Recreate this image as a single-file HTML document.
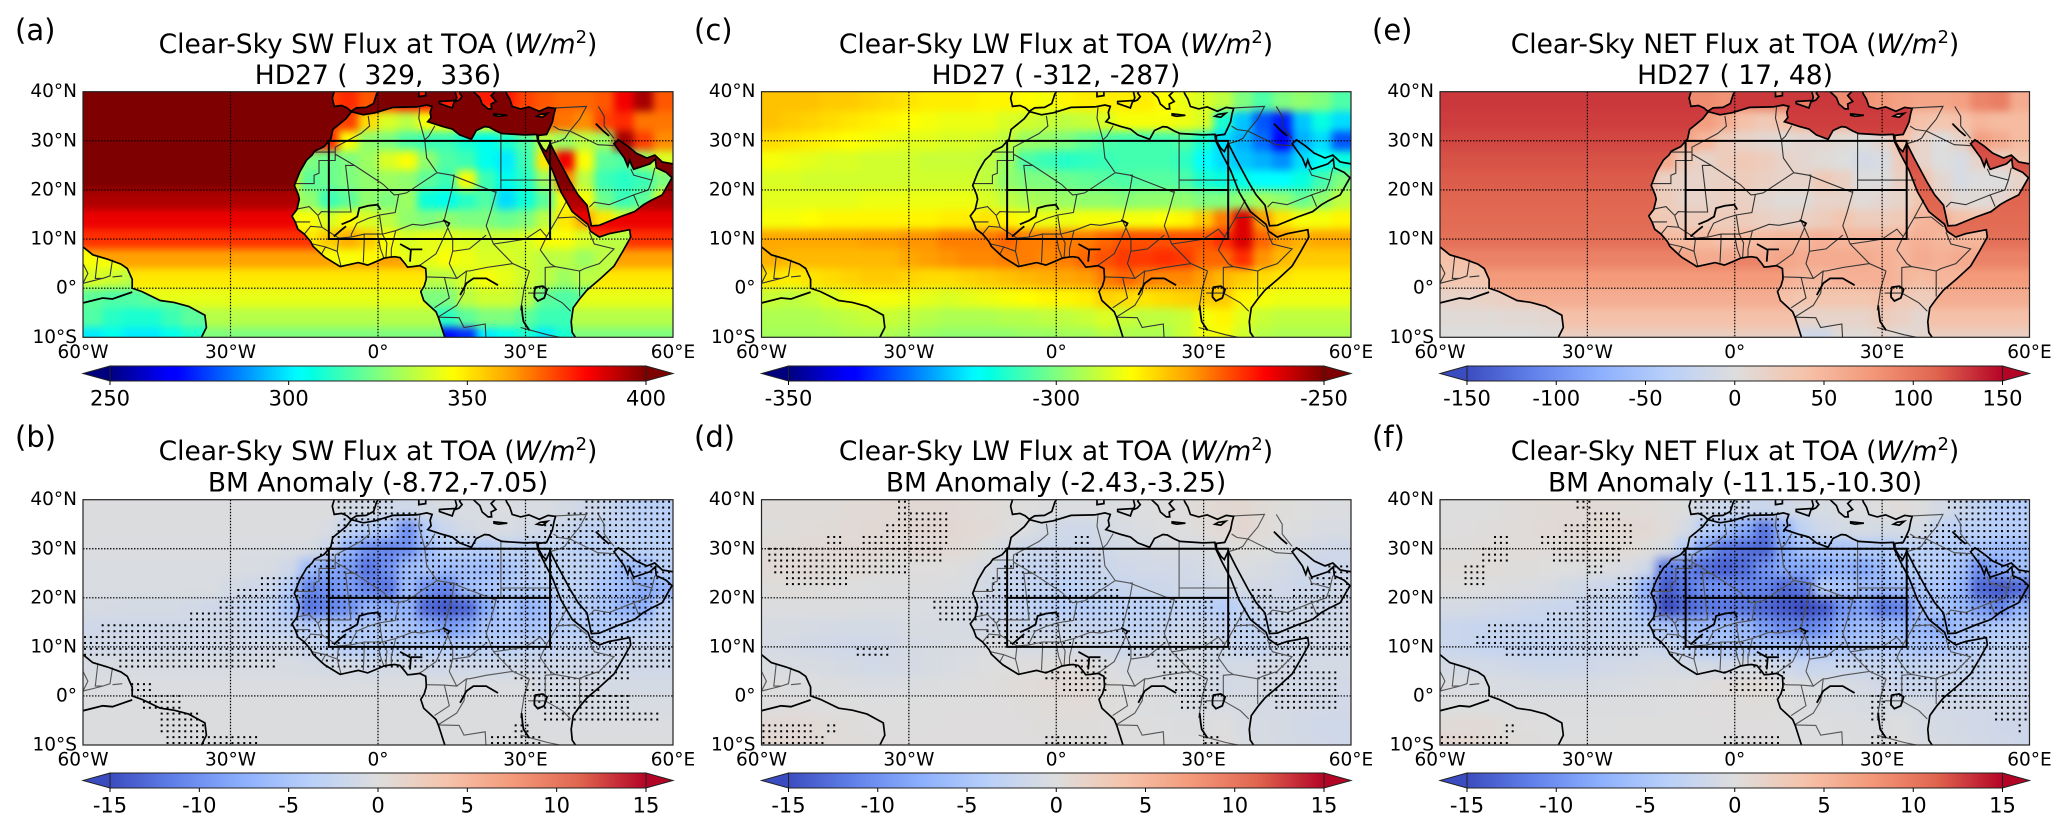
<!DOCTYPE html>
<html lang="en">
<head>
<meta charset="utf-8">
<title>Clear-Sky TOA Flux Maps</title>
<style>
html,body{margin:0;padding:0;background:#fff;}
svg{display:block;}
text{font-family:"DejaVu Sans","Liberation Sans",sans-serif;fill:#000;white-space:pre;}
.letter{font-size:29px;}
.title{font-size:26.5px;text-anchor:middle;}
</style>
</head>
<body>
<svg id="figure" xmlns="http://www.w3.org/2000/svg" width="2067" height="831" viewBox="0 0 2067 831">
  <defs>
    <filter id="blur-top" x="-10%" y="-10%" width="120%" height="120%" color-interpolation-filters="sRGB"><feGaussianBlur stdDeviation="4"/></filter>
    <filter id="blur-anom" x="-10%" y="-10%" width="120%" height="120%" color-interpolation-filters="sRGB"><feGaussianBlur stdDeviation="5"/></filter>
  </defs>
  <rect x="0" y="0" width="2067" height="831" fill="#fff"/>

  <g>
    <text class="letter" x="15" y="40">(a)</text>
    <text class="title" x="378" y="53">Clear-Sky SW Flux at TOA (<tspan font-style="italic">W/m</tspan><tspan dy="-10" font-size="18">2</tspan><tspan dy="10">)</tspan></text>
    <text class="title" x="378" y="84">HD27 (  329,  336)</text>
  </g>
  <g>
    <text class="letter" x="15" y="447">(b)</text>
    <text class="title" x="378" y="460">Clear-Sky SW Flux at TOA (<tspan font-style="italic">W/m</tspan><tspan dy="-10" font-size="18">2</tspan><tspan dy="10">)</tspan></text>
    <text class="title" x="378" y="491.5">BM Anomaly (-8.72,-7.05)</text>
  </g>
  <g>
    <text class="letter" x="694" y="40">(c)</text>
    <text class="title" x="1056" y="53">Clear-Sky LW Flux at TOA (<tspan font-style="italic">W/m</tspan><tspan dy="-10" font-size="18">2</tspan><tspan dy="10">)</tspan></text>
    <text class="title" x="1056" y="84">HD27 ( -312, -287)</text>
  </g>
  <g>
    <text class="letter" x="694" y="447">(d)</text>
    <text class="title" x="1056" y="460">Clear-Sky LW Flux at TOA (<tspan font-style="italic">W/m</tspan><tspan dy="-10" font-size="18">2</tspan><tspan dy="10">)</tspan></text>
    <text class="title" x="1056" y="491.5">BM Anomaly (-2.43,-3.25)</text>
  </g>
  <g>
    <text class="letter" x="1372" y="40">(e)</text>
    <text class="title" x="1735" y="53">Clear-Sky NET Flux at TOA (<tspan font-style="italic">W/m</tspan><tspan dy="-10" font-size="18">2</tspan><tspan dy="10">)</tspan></text>
    <text class="title" x="1735" y="84">HD27 ( 17, 48)</text>
  </g>
  <g>
    <text class="letter" x="1372" y="447">(f)</text>
    <text class="title" x="1735" y="460">Clear-Sky NET Flux at TOA (<tspan font-style="italic">W/m</tspan><tspan dy="-10" font-size="18">2</tspan><tspan dy="10">)</tspan></text>
    <text class="title" x="1735" y="491.5">BM Anomaly (-11.15,-10.30)</text>
  </g>
</svg>
<script>
// ---------- axes data ----------
const cellLons = [-58,-54,-50,-46,-42,-38,-34,-30,-26,-22,-18,-14,-10,-6,-2,2,6,10,14,18,22,26,30,34,38,42,46,50,54,58];
const cellLats = [38,34,30,26,22,18,14,10,6,2,-2,-6,-10];
const lonTicks = [-60,-30,0,30,60];
const lonTickLabels = ['60°W','30°W','0°','30°E','60°E'];
const latTicks = [40,30,20,10,0,-10];
const latTickLabels = ['40°N','30°N','20°N','10°N','0°','10°S'];
const jetTicks = [250,300,350,400];
const lwTicks = [-350,-300,-250];
const netTicks = [-150,-100,-50,0,50,100,150];
const anomTicks = [-15,-10,-5,0,5,10,15];
const sigBandLats = [38.75,36.25,33.75,31.25,28.75,26.25,23.75,21.25,18.75,16.25,13.75,11.25,8.75,6.25,3.75,1.25,-1.25,-3.75,-6.25,-8.75];

// ---------- panel (a) SW HD27 ----------
const swOceanByLat = [412,412,410,410,406,394,386,377,362,350,342,334,325];
const swLand = [
[372,372,372,372,372,372,372,372,372,372,372,372,375,378,372,375,380,380,380,380,380,380,375,372,370,370,372,385,395,372],
[370,370,370,370,370,370,370,370,370,370,370,370,375,375,352,340,335,345,345,340,345,350,365,370,368,365,375,378,368,368],
[375,375,375,375,375,375,375,375,375,375,375,378,378,345,328,325,318,315,315,310,305,310,318,335,330,335,330,395,375,365],
[345,345,345,345,345,345,345,345,345,345,345,325,322,325,330,340,345,328,318,315,305,300,315,350,385,345,320,318,330,340],
[345,345,345,345,345,345,345,345,345,345,350,320,322,325,328,330,328,320,315,345,315,305,312,330,365,335,315,312,315,325],
[335,335,335,335,335,335,335,335,335,335,335,328,315,320,328,325,330,308,305,312,318,298,308,320,345,345,322,315,320,340],
[345,345,345,345,345,345,345,345,345,345,345,345,340,345,340,335,328,325,328,325,325,322,325,335,350,360,350,340,340,340],
[350,350,350,350,350,350,350,350,350,350,355,350,355,360,355,345,340,342,342,340,338,338,340,345,345,340,335,335,335,335],
[345,345,345,345,345,345,345,345,345,345,345,345,345,345,347,345,342,342,345,343,340,340,338,335,335,330,335,335,335,335],
[340,338,335,335,335,335,335,335,335,335,335,335,335,335,335,335,335,335,335,340,345,342,338,335,330,335,335,335,335,335],
[320,318,318,320,320,320,320,320,320,320,325,325,325,325,325,325,325,325,325,335,338,338,335,320,318,320,320,320,320,320],
[318,312,310,310,315,320,320,320,320,320,315,315,315,315,315,315,315,315,312,320,325,325,320,315,315,315,315,315,315,315],
[300,305,300,300,305,310,310,310,310,310,280,280,280,280,280,280,280,280,270,275,300,305,310,300,310,310,310,310,310,310]
];

// ---------- panel (c) LW HD27 ----------
const lwGrid = [
[-279,-279,-279,-280,-280,-281,-282,-283,-284,-284,-284,-285,-285,-286,-287,-285,-284,-284,-284,-284,-286,-288,-290,-293,-300,-305,-300,-298,-300,-305],
[-279,-280,-281,-282,-283,-284,-285,-286,-287,-288,-288,-288,-290,-291,-292,-293,-292,-290,-287,-287,-287,-288,-290,-310,-320,-330,-335,-320,-312,-318],
[-282,-283,-284,-285,-286,-287,-288,-289,-289,-290,-290,-291,-293,-297,-298,-300,-303,-305,-306,-306,-306,-305,-310,-318,-322,-328,-338,-322,-318,-330],
[-287,-288,-289,-290,-290,-291,-291,-291,-292,-292,-292,-293,-297,-305,-307,-309,-308,-307,-306,-306,-306,-308,-315,-318,-320,-322,-325,-318,-314,-312],
[-290,-290,-291,-291,-291,-291,-291,-291,-291,-291,-291,-293,-298,-300,-300,-302,-303,-304,-305,-304,-304,-305,-310,-312,-313,-315,-315,-312,-306,-300],
[-289,-289,-289,-289,-289,-288,-288,-288,-288,-288,-288,-290,-293,-295,-296,-297,-298,-298,-299,-298,-298,-298,-300,-300,-298,-296,-298,-302,-298,-293],
[-287,-287,-286,-285,-285,-285,-285,-285,-285,-284,-284,-283,-285,-287,-288,-288,-287,-287,-287,-287,-286,-285,-280,-272,-258,-275,-283,-287,-287,-285],
[-276,-276,-276,-276,-276,-275,-275,-274,-274,-272,-272,-272,-270,-272,-272,-272,-272,-270,-268,-268,-268,-268,-268,-265,-258,-270,-275,-277,-276,-276],
[-277,-278,-278,-278,-278,-278,-278,-276,-275,-274,-273,-273,-272,-272,-273,-272,-270,-268,-266,-266,-265,-266,-270,-270,-265,-274,-278,-280,-280,-280],
[-283,-284,-283,-282,-281,-280,-280,-281,-282,-282,-281,-280,-279,-278,-277,-276,-275,-272,-270,-272,-273,-273,-275,-278,-280,-282,-283,-284,-284,-284],
[-292,-293,-292,-290,-288,-287,-287,-288,-289,-290,-289,-288,-287,-286,-285,-285,-284,-281,-282,-283,-282,-281,-280,-280,-285,-287,-288,-288,-288,-288],
[-295,-295,-295,-294,-293,-292,-292,-293,-294,-295,-295,-295,-294,-294,-293,-293,-292,-290,-292,-293,-293,-292,-287,-285,-289,-292,-293,-293,-293,-293],
[-296,-296,-296,-296,-295,-295,-295,-296,-297,-298,-298,-298,-298,-297,-297,-296,-296,-294,-295,-295,-295,-292,-288,-287,-291,-294,-295,-295,-295,-295]
];

// ---------- panel (e) NET HD27 ----------
const netOceanByLat = [130,128,124,120,116,112,108,105,92,75,58,40,22];
const netLand = [
[85,85,85,85,85,85,85,85,85,85,85,85,85,85,80,85,90,95,95,90,85,80,75,70,65,65,70,90,95,60],
[70,70,70,70,70,70,70,70,70,70,70,70,72,72,60,40,30,40,45,50,50,50,55,50,40,35,40,50,45,45],
[65,65,65,65,65,65,65,65,65,65,65,65,65,50,25,15,10,5,10,10,5,0,10,40,15,0,15,70,60,45],
[50,50,50,50,50,50,50,50,50,50,60,60,25,15,25,30,25,15,10,5,0,-10,-5,25,15,0,-5,15,20,35],
[40,40,40,40,40,40,40,40,40,40,50,20,15,15,20,25,20,15,15,30,20,0,0,20,40,10,-5,0,0,15],
[30,30,30,30,30,30,30,30,30,30,30,25,15,15,20,20,10,5,5,15,15,5,10,15,35,20,5,5,10,25],
[40,40,40,40,40,40,40,40,40,40,35,30,25,25,25,25,20,15,20,25,35,25,25,30,50,55,40,35,35,35],
[50,50,50,50,50,50,50,50,50,50,50,45,45,45,40,45,45,50,50,55,50,50,50,50,55,50,50,50,50,50],
[40,40,40,40,50,50,50,50,60,60,60,65,65,60,60,55,60,65,60,60,60,60,55,50,60,55,60,60,60,60],
[35,35,35,40,45,45,45,45,50,50,50,50,50,50,50,50,55,55,50,50,55,55,55,50,45,50,50,50,50,50],
[15,15,18,20,25,25,30,30,30,30,30,30,30,30,30,35,40,40,35,35,35,35,40,30,25,30,30,30,30,30],
[5,5,5,8,8,10,10,10,10,10,15,15,15,15,15,15,15,15,15,15,15,15,25,20,10,15,15,15,15,15],
[0,0,0,0,0,3,3,3,3,3,-10,-10,-10,-10,-10,-10,-10,-15,-15,-15,5,5,10,5,10,10,10,10,10,10]
];

// ---------- panel (b) SW anomaly ----------
const swAnom = [
[-.2,-.2,-.2,-.2,-.2,-.2,-.2,-.2,-.2,-.2,-.2,-.2,-.2,-1,-1,-1.5,-1.5,-1,-.5,-.5,-.5,-.3,-.5,-.5,-1,-1.5,-2,-3,-3.5,-3.5],
[-.2,-.2,-.2,-.2,-.2,-.2,-.2,-.2,-.2,-.2,-.2,-.2,-.5,-3,-4,-5,-10,-4,-2,-1,-.6,-.5,-1,-1.5,-2,-3,-3,-3,-3.5,-3.5],
[-.3,-.3,-.3,-.3,-.3,-.3,-.3,-.3,-.4,-.4,-.5,-.6,-2,-7,-10,-11,-10,-6,-4,-4,-4,-3,-3.5,-3,-3,-3.5,-3.5,-3,-3.5,-3.5],
[-.4,-.4,-.4,-.4,-.4,-.4,-.4,-.4,-.5,-.7,-1.5,-6,-8,-9,-12,-10,-6,-5,-6,-5.5,-6,-5,-4,-3,-3,-3,-4,-6,-6,-3.5],
[-.4,-.4,-.4,-.4,-.4,-.4,-.4,-1,-1.5,-2,-4,-11,-10,-9,-11,-12,-6,-10,-11,-6,-5,-4.5,-4,-4,-3,-3.5,-5,-6,-8,-7],
[-.8,-.9,-1,-1,-1,-1.2,-1.5,-2,-2.5,-3,-5,-12,-11,-10,-7,-8,-7,-13,-14,-13,-8,-5,-7,-6,-3.5,-4,-5,-7,-7.5,-3.5],
[-1.5,-1.5,-1.5,-1.5,-1.5,-1.5,-1.5,-1.5,-2,-2.5,-3,-4,-4,-4.5,-4.5,-4.5,-5,-7,-9,-8,-5,-5,-5,-5,-4,-4,-4.5,-4,-3.5,-3],
[-1.3,-1.3,-1.3,-1.3,-1.3,-1.3,-1.3,-1.3,-1.3,-1.3,-1.3,-2,-3,-4,-4,-4,-4,-4,-4,-4,-3.5,-3.5,-3,-3,-2.5,-2.5,-2.5,-2,-2,-2],
[-.6,-.6,-.6,-.6,-.6,-.6,-.6,-.6,-.6,-.6,-.6,-.8,-1,-1,-1.5,-1,-1,-1.5,-1.5,-1.5,-1.5,-1.5,-1.5,-1.5,-1.5,-1.5,-1.5,-1.5,-1.5,-1.5],
[-.3,-.3,-.3,-.3,-.3,-.3,-.3,-.3,-.3,-.3,-.3,-.3,-.3,-.3,-.3,-.3,-.3,-.3,-.3,-.3,-.3,-.3,-.3,-1,-1,-1,-1,-1,-1,-1],
[-.2,-.2,-.2,-.2,-.2,-.2,-.2,-.2,-.2,-.2,-.2,-.2,-.2,-.2,-.2,-.2,-.2,-.2,-.2,-.2,-.2,-.2,-.3,-.5,-.5,-.5,-.7,-.7,-.5,-.5],
[-.2,-.2,-.2,-.2,-.2,-.2,-.2,-.2,-.2,-.2,-.2,-.2,-.2,-.2,-.2,-.2,-.2,-.2,-.2,-.2,-.2,-.2,-.2,-.2,-.3,-.3,-.3,-.3,-.3,-.3],
[-.2,-.2,-.2,-.2,-.2,-.2,-.2,-.2,-.2,-.2,-.2,-.2,-.2,-.2,-.2,-.2,-.2,-.2,-.2,-.2,-.2,-.2,-.2,-.2,-.2,-.2,-.2,-.2,-.2,-.2]
];

// ---------- panel (d) LW anomaly ----------
const lwAnom = [
[.3,.3,.3,.3,.5,.6,.7,.8,.8,.7,.6,.4,.2,0,-.2,-.3,-.3,-.3,-.2,-.1,0,.1,.5,.8,.9,.5,.2,0,-.2,-.3],
[.2,.3,.4,.5,.6,.7,.8,.9,1,1,.8,.5,.1,-.3,-1,-1.5,-1.5,-1,-.5,-.3,-.1,0,.3,.7,1,.5,0,-.2,-.5,-.5],
[.5,.5,.6,.6,.7,.6,.6,.6,.7,.8,.5,0,-.8,-1.8,-2,-2,-2,-1.5,-1,-.9,-.7,-.7,-.6,-.1,.2,0,-.3,-1,-1.3,-1.5],
[.6,.6,.6,.5,.5,.3,.2,.1,.1,0,-.2,-.8,-2,-2.5,-2.5,-2.5,-2.5,-2,-1.5,-1.2,-1.2,-1.2,-1,-.6,-.4,-.6,-1,-1.5,-2,-1.8],
[.2,.2,.2,.1,0,-.1,-.2,-.2,-.2,-.2,-.4,-1.2,-2.2,-2.5,-3,-3.5,-3,-2.7,-2.3,-2,-1.8,-1.5,-1.5,-1.2,-1,-1.2,-1.3,-1.8,-2,-1.5],
[-.2,-.2,-.2,-.2,-.2,-.3,-.3,-.3,-.4,-.6,-1,-2,-2.5,-3,-3.5,-4,-4,-3.5,-3.5,-3.5,-3.5,-3,-3.5,-4,-3,-2,-1.8,-1.8,-1.8,-1.5],
[-.6,-.7,-.8,-.9,-1,-1,-.9,-.7,-.6,-.6,-.8,-1.2,-1.5,-2,-2,-2,-2.5,-2.5,-3,-3,-2.5,-2,-2,-2.5,-3,-3,-1.8,-1.5,-1.2,-1.2],
[-.8,-1,-1.2,-1.3,-1.5,-1.5,-1.2,-1,-.8,-.6,-.5,-.2,-.3,-.8,-.8,-1,-1.2,-1.5,-2,-1.8,-1.5,-1.2,-1.2,-1.8,-2.5,-2.5,-1.8,-1.5,-1.3,-1.2],
[-.4,-.5,-.6,-.8,-1,-1.2,-1.1,-1,-.7,-.5,-.3,-.1,0,.1,.2,.4,.3,-.2,-.6,-.6,-.6,-.7,-.9,-1.2,-1,-1,-1.1,-1.2,-1,-1],
[0,-.1,-.1,-.2,-.3,-.4,-.4,-.3,-.2,-.1,0,.1,.2,.3,.5,.7,.7,.2,-.1,-.2,-.3,-.5,-.8,-1.2,-1,-1,-1.1,-1.2,-1.2,-1.2],
[.1,.1,.1,0,0,0,0,0,0,0,0,0,.1,.2,.3,.4,.4,.2,0,-.1,-.2,-.4,-.6,-.5,-.6,-.9,-1,-1.1,-1.2,-1.3],
[.6,.7,.6,.3,.2,.1,0,0,0,.1,.1,.1,.1,.1,.2,.2,.2,.1,0,0,-.1,-.2,-.2,0,-.5,-.8,-1,-1.2,-1.5,-1.5],
[1,1,.7,.4,.3,.2,.1,.1,.1,.1,.1,.1,.1,.1,.1,.2,.2,.1,0,0,0,-.1,0,.1,-.4,-.7,-.9,-1.1,-1.3,-1.5]
];

// ---------- panel (f) NET anomaly ----------
const netAnom = [
[0,0,0,.2,.4,.5,.6,.6,.6,.5,.4,.2,-.2,-1.5,-2,-2,-2,-1.5,-1,-.7,-.5,-.3,0,.3,-.2,-1,-2,-3,-4,-4],
[0,.1,.2,.3,.4,.6,.7,.8,.9,.9,.7,.3,-.8,-4,-5.5,-8,-12,-7,-3,-1.5,-1,-.7,-1,-1,-1,-3,-3.5,-3.5,-4,-4],
[.2,.2,.3,.3,.4,.3,.4,.4,.5,.5,.2,-.5,-4,-9,-12,-12.5,-13,-8,-5.5,-5,-5,-4.5,-4.5,-3.5,-3.5,-4,-4.5,-5,-6,-6],
[.3,.3,.3,.2,.2,0,-.1,-.2,-.3,-.5,-1.5,-12,-11,-12.5,-13.5,-12.5,-10,-8,-8,-8,-7,-8,-6,-4.5,-3.5,-4,-5.5,-10,-8,-5.5],
[0,0,-.1,-.2,-.3,-.5,-1,-1.5,-2,-2.5,-7,-14,-12,-10,-10,-11,-11,-13,-12,-4,-5,-6,-6.5,-6,-5,-5,-7,-13,-14,-13],
[-1,-1,-1.2,-1.4,-1.7,-2,-2.2,-2.5,-3,-3.5,-6,-15,-13,-12,-12,-12,-13,-14,-15,-14,-10,-9,-12,-11,-6,-5,-6.5,-9,-11,-7],
[-2,-2.2,-2.3,-2.4,-2.5,-2.5,-2.4,-2.2,-2.6,-3,-3.5,-5,-6,-6,-6,-6.5,-9,-10.5,-11,-10,-7,-6,-6,-6.5,-6.5,-8,-5.5,-5,-4.5,-4],
[-2,-2.3,-2.5,-2.6,-2.8,-2.8,-2.5,-2.3,-2.1,-1.9,-1.8,-2.2,-3.3,-4.8,-4.8,-5,-5.2,-5.5,-6,-5.8,-5,-4.7,-4.2,-4.8,-5,-5,-4.3,-3.5,-3.3,-3.2],
[-1,-1.1,-1.2,-1.4,-1.6,-1.8,-1.7,-1.6,-1.3,-1.1,-.9,-.7,-1,-.9,-1.3,-.6,-.7,-1.7,-2.1,-2.1,-2.1,-2.2,-2.4,-2.7,-2.5,-2.5,-2.6,-2.7,-2.5,-2.5],
[-.3,-.4,-.4,-.5,-.6,-.7,-.7,-.6,-.5,-.4,-.3,-.2,-.1,.1,.3,.5,.5,0,-.3,-.4,-.6,-.8,-1.3,-2.2,-2,-2,-2.1,-2.2,-2.2,-2.2],
[-.1,-.1,-.1,-.2,-.2,-.2,-.2,-.2,-.2,-.2,-.2,-.1,0,.1,.1,.2,.2,0,-.2,-.3,-.4,-.6,-.8,-.7,-.8,-1.1,-1.2,-1.3,-1.5,-1.6],
[.5,.6,.5,.2,.1,0,-.1,-.1,-.1,0,0,0,0,0,.1,.1,.1,0,-.1,-.1,-.2,-.3,-.3,-.1,-.6,-.9,-1.1,-1.3,-1.6,-1.6],
[1,.9,.6,.3,.2,.1,0,0,0,0,0,0,0,0,0,.1,.1,0,-.1,-.1,-.1,-.2,-.1,0,-.5,-.8,-1,-1.2,-1.4,-1.6]
];

// ---------- significance (lon ranges per latitude band) ----------
const swSig = [
[[-9,3],[42,60]],[[-7,8],[38,60]],[[-8,10],[33,60]],[[-10,20],[30,60]],[[-12,60]],[[-15,60]],[[-24,60]],[[-29,60]],[[-33,60]],[[-38,60]],
[[-57,60]],[[-60,60]],[[-60,60]],[[-53,-20],[-11,60]],[[28,52]],[[-50,-46],[30,46]],[[-48,-40],[32,52]],[[-45,-36],[34,57]],[[-44,-35],[28,31]],[[-43,-24],[23,33]]
];
const lwSig = [
[[-33,-30]],[[-32,-22]],[[-35,-22]],[[-47,-43],[-40,-22],[3,7]],[[-59,-23],[-8,10]],[[-58,-30],[-11,10],[55,60]],[[-55,-42],[-13,11],[52,60]],[[-15,13],[40,44],[48,60]],[[-25,32],[40,60]],[[-24,60]],
[[-15,60]],[[-15,60]],[[-41,-34],[14,60]],[[3,11],[20,33],[41,51]],[[-2,11],[22,33],[41,57]],[[1,11],[24,33],[42,57]],[[25,31],[44,58]],[],[[-60,-49],[-47,-44]],[[-60,-47],[-2,11],[30,34]]
];
const netSig = [
[[-33,-29],[-8,3],[43,60]],[[-30,-23],[-7,9],[45,60]],[[-35,-21],[-7,12],[38,60]],[[-49,-46],[-40,-21],[-9,20],[33,60]],[[-52,-46],[-37,-23],[-11,60]],[[-55,-50],[-30,-26],[-16,60]],[[-55,-50],[-24,60]],[[-30,60]],[[-33,60]],[[-38,60]],
[[-50,60]],[[-53,60]],[[-47,-19],[-13,60]],[[4,12],[20,60]],[[-2,11],[27,60]],[[-1,11],[30,60]],[[27,31],[42,60]],[[27,31],[53,60]],[[-47,-44],[57,59]],[[-60,-46],[-2,10],[27,33]]
];

// ---------- basemap (lon, lat vertices) ----------
const landPolygons = [
 // Africa
 [[-5.5,35.8],[-6.5,34.5],[-7.6,33.6],[-9.2,32.3],[-9.6,30.4],[-11,28.8],[-12.9,27.9],[-13.4,27.1],[-14.5,26.1],[-15.9,23.7],[-17,20.9],[-16.2,19],[-16,18.1],[-16.5,16],[-17.5,14.7],[-16.8,13.4],[-16.3,12],[-15,11],[-13.7,9.5],[-13.2,8.5],[-11.5,6.9],[-10.8,6.3],[-7.7,4.4],[-4,5.2],[-2.1,4.7],[-0.2,5.5],[1.2,6.1],[2.4,6.3],[3.4,6.4],[4.5,6.2],[5.5,5],[6,4.3],[7,4.4],[8.5,4.6],[9.7,4],[9.8,2.5],[9.8,1.8],[9.4,0.4],[8.7,-0.7],[9.3,-2.5],[11.8,-4.8],[12.3,-6],[13.2,-8.8],[13.8,-10.7],[14,-15],[40,-15],[40.5,-10.5],[39.5,-9],[39.3,-6.8],[39.7,-4],[41,-2.2],[42.5,-0.4],[45.3,2],[48,4.5],[49.8,7.5],[51.4,10.4],[51.2,11.9],[47,11.1],[45,10.4],[43.2,11.6],[42.7,13],[39.5,15.6],[37.2,19.6],[35.5,24],[33.8,27.2],[32.5,29.9],[32.3,31.3],[29.9,31.2],[25.2,31.5],[24,32],[22.6,32.8],[21.7,32.9],[20,32.1],[19,30.3],[16.6,31.2],[15.1,32.4],[13.2,32.9],[10.1,33.9],[10.8,34.7],[10.6,35.8],[11,37],[9.9,37.3],[7.8,36.9],[3,36.8],[-0.6,35.7],[-3,35.3],[-5.3,35.9]],
 // Arabia, Levant, Turkey, Iran
 [[32.6,30],[33.5,28.5],[34.2,27.8],[35,29.5],[36.5,26.5],[39.2,21.5],[40.7,19],[42.5,16.9],[43.4,12.7],[45,12.8],[49.1,14.5],[52.2,15.6],[54,17],[55.4,17.8],[57.8,19],[59.8,22.5],[58.6,23.6],[56.6,24.5],[56.4,26.3],[55.3,25.3],[52,24.2],[51.6,25],[51.2,26.1],[50.8,24.8],[50.1,26.5],[48,29.4],[48.9,30.2],[50.8,28.9],[52.5,27.5],[54.7,26.5],[56.3,27.1],[57.8,25.7],[60,25.3],[65,25],[65,45],[26,45],[26,40],[26.2,39.5],[26.8,38.5],[27.3,37],[29,36.5],[30.7,36.9],[32.8,36],[34.6,36.8],[36.1,36.6],[35.8,35.5],[35.5,33.9],[35,32.8],[34.3,31.3],[32.6,31.1]],
 // Iberia
 [[-10,45],[-8.9,40],[-9.3,38.7],[-8.9,37],[-7.4,37.2],[-6.3,36.7],[-5.5,36],[-4.4,36.7],[-2.4,36.8],[-0.9,37.6],[-0.3,39.5],[0.5,40.8],[3,42],[3,45]],
 // Italy
 [[8,45],[8.5,44],[10.5,43],[12.5,41.5],[14.5,40.7],[15.7,40],[16,38.8],[15.7,38],[16.5,38.3],[17.1,39],[16.6,39.7],[17,40.4],[18.5,40.1],[18,41],[16,42],[14,43],[13,45]],
 // Sicily
 [[12.5,38],[15.6,38.2],[15.1,36.7],[12.5,37.6]],
 // Sardinia
 [[8.3,39],[9.7,39.2],[9.7,41],[8.3,41]],
 // Greece and Balkans
 [[19.5,41],[19.4,40],[20.7,38.8],[21.2,37.5],[22.4,36.5],[23.1,36.5],[23,37.5],[24,38],[23,39.2],[23.8,40],[26,41],[26,45],[19,45]],
 // Crete
 [[23.6,35.5],[26.3,35.2],[24.5,35],[23.6,35.2]],
 // Cyprus
 [[32.3,35],[33,35.4],[34.5,35.6],[33.5,34.8]],
 // South America
 [[-65,10],[-61,9.8],[-60,8.4],[-58,6.8],[-55,5.9],[-52.3,4.9],[-51,4],[-50,1.8],[-50,0],[-48,-0.7],[-44.3,-2.5],[-41.5,-2.9],[-38.5,-3.7],[-35.2,-5.5],[-34.9,-8],[-35.9,-10],[-37,-12],[-37,-15],[-65,-15]]
];
const thickLines = [
 [[-60,-3],[-58,-2.5],[-56,-2],[-54,-2.2],[-52,-1.5],[-50,-0.8]],
 [[-7.4,13],[-5.5,13.8],[-4.2,14.6],[-3.8,16.3],[-2,16.8],[-0.1,17],[0.5,16]],
 [[-9,10.5],[-7.5,11.8],[-6.5,12.6]],
 [[4.5,9],[6.7,7.8],[6.5,5.4]],
 [[6.7,7.9],[9,7.9]],
 [[16.7,-1.4],[18,1],[19.4,2],[22,2],[24.4,0.6]],
 [[13.2,13.9],[14.5,13.2],[14.2,12.6]],
 [[31.8,-0.8],[32,0.2],[33.5,0.4],[34.4,-0.2],[33.8,-2],[32.5,-2.6],[31.8,-1.8],[31.8,-0.8]],
 [[29.2,-3.5],[29.4,-5.5],[29.6,-6.8],[30.8,-8.6]],
 [[44.3,33.5],[45.8,32],[47,31]]
];
const borderLines = [
 [[-2,35.1],[-1.7,33],[-3.5,31.5],[-8.7,28.7],[-8.7,26],[-12,26],[-12,23.4],[-13,23],[-13,21.3],[-17,21.3]],
 [[-13,27.7],[-8.7,27.7]],
 [[-8.7,27.3],[-4.8,25],[1.1,21.1],[3.3,19],[4.2,19.1],[5.8,19.4],[12,23.5]],
 [[-4.8,25],[-6.6,25],[-5.5,15.5],[-9.3,15.5],[-11.5,15.6],[-12.2,14.8],[-14,16.6],[-16.5,16.1]],
 [[-12.2,14.7],[-11.4,12.4],[-13.7,12.6],[-15,11]],
 [[-5.5,10.4],[-5.4,11],[-4.3,13.2],[-2,14.2],[0.3,14.9],[3.5,15.4],[4.2,19.1]],
 [[12,23.5],[15,23],[15.5,23],[15,20],[13.5,14]],
 [[11.6,33.1],[10.3,30.9],[9.5,30.2],[9.9,26.5],[12,23.5]],
 [[8.5,36.9],[8.3,34.6],[9.5,30.2]],
 [[15,23],[24,19.5],[24,20],[25,20],[25,22],[25,31.5]],
 [[25,22],[36.9,22]],
 [[24,19.5],[22.9,15.5],[22,12.7],[23.5,9]],
 [[13.5,13.7],[14.2,12.3],[15.2,10],[15.2,7.5],[18.6,8],[22,10.8]],
 [[3.6,11.7],[7,13],[9,12.8],[13.5,13.7]],
 [[14.2,12.3],[13,9.5],[11.8,7],[9,5],[8.5,4.7]],
 [[3.6,11.7],[2.7,8],[2.7,6.3]],
 [[0.3,14.9],[0.9,11],[3.6,11.7]],
 [[0.9,11],[1.8,9.2],[1.6,6.2]],
 [[-0.1,11.1],[0.5,8],[1.2,6.1]],
 [[-2.8,11],[-2.8,9.5],[-3,5.2]],
 [[-5.5,10.4],[-2.8,11],[0.9,11]],
 [[-5.5,10.4],[-8,10.2],[-8.3,7.5],[-7.5,4.4]],
 [[-8.3,7.5],[-10.7,8.4],[-11.5,6.9]],
 [[-10.7,8.4],[-13.3,9]],
 [[-8,10.2],[-11.4,12.4]],
 [[-16.8,13.5],[-13.8,13.5]],
 [[15.2,7.5],[14.5,5],[16,2],[13.5,2.2],[9.8,2.3]],
 [[16,2],[18,3.5],[18.6,3.5],[22,4.2],[27.4,5],[30.8,3.5]],
 [[13.5,2.2],[14.5,-2],[11.5,-4]],
 [[18,3.5],[17.5,-1],[16,-3.5],[12.2,-5.9]],
 [[12.2,-5.9],[16.5,-6],[17.5,-8],[21.8,-7.3],[22,-11]],
 [[23.5,9],[27,9.5],[30,10],[33,12],[34.3,10.5]],
 [[23.5,9],[27.4,5]],
 [[36.5,14.3],[34.3,10.5],[33,7.8],[35,5],[36,4.4]],
 [[36.5,14.3],[38.5,18]],
 [[36.5,14.3],[40,14.5],[42.5,12.5]],
 [[43,11.4],[44,9],[48,8],[45,5],[42,4],[41,3.5],[41,-1.7]],
 [[41,3.5],[36,4.4],[34,4.2],[34,1],[34,-1],[37.5,-3],[39.2,-4.7]],
 [[30.8,3.5],[29.7,0],[29.5,-1.5],[29,-4.5]],
 [[30.5,-1],[34,-1]],
 [[29,-8],[34.5,-9.5],[39.5,-10.5]],
 [[35,29.4],[37,30],[38,30.5],[39,32],[44.7,29.2],[46.5,29.1],[48,29]],
 [[36,36.7],[42.4,37],[41,34.4],[39,32]],
 [[35.7,33],[36.8,32.3],[39,32]],
 [[44.8,37],[46,35],[46,33],[48,30.5]],
 [[43,16.5],[44,17.5],[47,17],[52,19],[55,20],[55.7,22],[52,23],[51.4,24.3]],
 [[55.7,22],[56.3,24.5]],
 [[52,19],[53,16.6]],
 [[-57,6.5],[-57.5,2],[-56,2],[-54.5,2.5],[-54,5.8]],
 [[-60,5],[-59,3],[-60,1],[-58,1.5],[-56,2]],
 [[-52,2.5],[-54,2.3]]
];
const boxLons = [-10,35];
const boxLats = [30,20,10];

// ---------- layout (separate from data) ----------
const panelLayout = {
 a:{left:83,right:673,top:91.7,bottom:337.3,barTop:366,barBottom:381},
 b:{left:83,right:673,top:499.7,bottom:745,barTop:773,barBottom:788},
 c:{left:761.5,right:1351,top:91.7,bottom:337.3,barTop:366,barBottom:381},
 d:{left:761.5,right:1351,top:499.7,bottom:745,barTop:773,barBottom:788},
 e:{left:1440,right:2029.5,top:91.7,bottom:337.3,barTop:366,barBottom:381},
 f:{left:1440,right:2029.5,top:499.7,bottom:745,barTop:773,barBottom:788}
};
const panelSpecs = [
 {id:'a',grid:swLand,ocean:swOceanByLat,map:'jet',vmin:250,vmax:400,ticks:jetTicks,sig:null},
 {id:'b',grid:swAnom,ocean:null,map:'coolwarm',vmin:-15,vmax:15,ticks:anomTicks,sig:swSig},
 {id:'c',grid:lwGrid,ocean:null,map:'jet',vmin:-350,vmax:-250,ticks:lwTicks,sig:null},
 {id:'d',grid:lwAnom,ocean:null,map:'coolwarm',vmin:-15,vmax:15,ticks:anomTicks,sig:lwSig},
 {id:'e',grid:netLand,ocean:netOceanByLat,map:'coolwarm',vmin:-150,vmax:150,ticks:netTicks,sig:null},
 {id:'f',grid:netAnom,ocean:null,map:'coolwarm',vmin:-15,vmax:15,ticks:anomTicks,sig:netSig}
];

// ---------- colour maps ----------
const jetStops = [[0,[0,0,127]],[.11,[0,0,255]],[.125,[0,0,255]],[.35,[0,255,255]],[.375,[0,255,229]],[.5,[127,255,127]],[.64,[255,255,0]],[.75,[255,159,0]],[.89,[255,0,0]],[1,[127,0,0]]];
const coolwarmStops = [[0,[59,76,192]],[.125,[98,130,234]],[.25,[141,176,254]],[.375,[185,208,249]],[.5,[221,221,221]],[.625,[245,196,172]],[.75,[244,154,123]],[.875,[224,101,79]],[1,[180,4,38]]];
function sampleMap(name,t){
  const stops = name==='jet'?jetStops:coolwarmStops;
  const u = Math.max(0,Math.min(1,t));
  for(let i=1;i<stops.length;i++){
    if(u<=stops[i][0]){
      const a=stops[i-1],b=stops[i],f=(u-a[0])/(b[0]-a[0]||1);
      const c=[0,1,2].map(k=>Math.round(a[1][k]+(b[1][k]-a[1][k])*f));
      return 'rgb('+c.join(',')+')';
    }
  }
  return 'rgb('+stops[stops.length-1][1].join(',')+')';
}

// ---------- helpers ----------
const NS='http://www.w3.org/2000/svg';
const root=document.getElementById('figure');
const defs=root.querySelector('defs');
function make(tag,parent,attrs){
  const el=document.createElementNS(NS,tag);
  for(const k in attrs) el.setAttribute(k,attrs[k]);
  parent.appendChild(el);
  return el;
}
function xOf(L,lon){return L.left+(lon+60)/120*(L.right-L.left);}
function yOf(L,lat){return L.top+(40-lat)/50*(L.bottom-L.top);}
function pathOf(L,pts,closed){
  return pts.map((p,i)=>(i?'L':'M')+xOf(L,p[0]).toFixed(1)+' '+yOf(L,p[1]).toFixed(1)).join('')+(closed?'Z':'');
}
function inRuns(runs,lon){
  for(const r of runs){ if(lon>=r[0]&&lon<=r[1]) return true; }
  return false;
}

function drawPanel(spec){
  const L=panelLayout[spec.id];
  const color=v=>sampleMap(spec.map,(v-spec.vmin)/(spec.vmax-spec.vmin));
  const pad=30;
  const panel=make('g',root,{});
  
  

  const clip=make('clipPath',defs,{id:'plot-'+spec.id});
  make('rect',clip,{x:L.left,y:L.top,width:L.right-L.left,height:L.bottom-L.top});
  const landClip=make('clipPath',defs,{id:'land-'+spec.id});
  make('path',landClip,{d:landPolygons.map(p=>pathOf(L,p,true)).join('')});

  const plot=make('g',panel,{'clip-path':'url(#plot-'+spec.id+')'});
  
  

  const blurId=spec.sig?'blur-anom':'blur-top';
  if(spec.ocean){
    const oceanLayer=make('g',plot,{filter:'url(#'+blurId+')'});
    
    
    spec.ocean.forEach((v,i)=>{
      const lat=cellLats[i];
      const y0=yOf(L,lat+2)-(i===0?pad:0);
      const y1=yOf(L,lat-2)+(i===spec.ocean.length-1?pad:0);
      const strip=make('rect',oceanLayer,{x:L.left-pad,y:y0,width:L.right-L.left+2*pad,height:y1-y0+0.5,fill:color(v)});
      
      
    });
  }
  const fieldHolder=spec.ocean?make('g',plot,{'clip-path':'url(#land-'+spec.id+')'}):plot;
  const field=make('g',fieldHolder,{filter:'url(#'+blurId+')'});
  
  
  spec.grid.forEach((row,i)=>{
    const lat=cellLats[i];
    row.forEach((v,j)=>{
      const lon=cellLons[j];
      const x0=xOf(L,lon-2)-(j===0?pad:0);
      const x1=xOf(L,lon+2)+(j===row.length-1?pad:0);
      const y0=yOf(L,lat+2)-(i===0?pad:0);
      const y1=yOf(L,lat-2)+(i===spec.grid.length-1?pad:0);
      const cell=make('rect',field,{x:x0,y:y0,width:x1-x0+0.5,height:y1-y0+0.5,fill:color(v)});
      
      
    });
  });

  if(spec.sig){
    const dots=make('g',plot,{fill:'#000'});
    
    
    for(let lat=39.6;lat>-10;lat-=1.2){
      const band=Math.min(spec.sig.length-1,Math.floor((40-lat)/2.5));
      const runs=spec.sig[band];
      for(let lon=-59.6;lon<60;lon+=1.2){
        if(inRuns(runs,lon)){
          const dot=make('rect',dots,{x:xOf(L,lon)-1,y:yOf(L,lat)-1,width:2,height:2});
          
          
        }
      }
    }
  }

  const borders=make('path',plot,{d:borderLines.map(p=>pathOf(L,p,false)).join(''),fill:'none',stroke:spec.sig?'#555':'#333','stroke-width':1.1});
  
  
  const coast=make('path',plot,{d:landPolygons.map(p=>pathOf(L,p,true)).join(''),fill:'none',stroke:'#000','stroke-width':1.7});
  
  
  const rivers=make('path',plot,{d:thickLines.map(p=>pathOf(L,p,false)).join(''),fill:'none',stroke:'#000','stroke-width':1.8});
  
  

  const gridLayer=make('g',plot,{stroke:'#000','stroke-width':1.2,'stroke-dasharray':'1.5 1.5'});
  
  
  lonTicks.slice(1,-1).forEach(lon=>{
    const line=make('line',gridLayer,{x1:xOf(L,lon),x2:xOf(L,lon),y1:L.top,y2:L.bottom});
    
    
  });
  latTicks.slice(1,-1).forEach(lat=>{
    const line=make('line',gridLayer,{x1:L.left,x2:L.right,y1:yOf(L,lat),y2:yOf(L,lat)});
    
    
  });

  const box=make('path',plot,{d:'M'+xOf(L,boxLons[0])+' '+yOf(L,boxLats[0])+'H'+xOf(L,boxLons[1])+'V'+yOf(L,boxLats[2])+'H'+xOf(L,boxLons[0])+'Z M'+xOf(L,boxLons[0])+' '+yOf(L,boxLats[1])+'H'+xOf(L,boxLons[1]),fill:'none',stroke:'#000','stroke-width':2});
  
  

  const frame=make('rect',panel,{x:L.left,y:L.top,width:L.right-L.left,height:L.bottom-L.top,fill:'none',stroke:'#222','stroke-width':1.2});
  
  

  lonTicks.forEach((lon,i)=>{
    const t=make('text',panel,{x:xOf(L,lon),y:L.bottom+20.5,'text-anchor':'middle','font-size':18.5});
    t.textContent=lonTickLabels[i];
    
    
  });
  latTicks.forEach((lat,i)=>{
    const t=make('text',panel,{x:L.left-6,y:yOf(L,lat)+5.5,'text-anchor':'end','font-size':18.5});
    t.textContent=latTickLabels[i];
    
    
  });

  // colour bar
  const barL=L.left+27, barR=L.right-27;
  const grad=make('linearGradient',defs,{id:'bar-grad-'+spec.id,x1:0,x2:1,y1:0,y2:0});
  for(let s=0;s<=64;s++){
    make('stop',grad,{offset:s/64,'stop-color':sampleMap(spec.map,s/64)});
  }
  const bar=make('g',panel,{});
  
  
  const midY=(L.barTop+L.barBottom)/2;
  const lowTip=make('polygon',bar,{points:barL+','+L.barTop+' '+L.left+','+midY+' '+barL+','+L.barBottom,fill:sampleMap(spec.map,0),stroke:'#222','stroke-width':1});
  
  
  const highTip=make('polygon',bar,{points:barR+','+L.barTop+' '+L.right+','+midY+' '+barR+','+L.barBottom,fill:sampleMap(spec.map,1),stroke:'#222','stroke-width':1});
  
  
  const ramp=make('rect',bar,{x:barL,y:L.barTop,width:barR-barL,height:L.barBottom-L.barTop,fill:'url(#bar-grad-'+spec.id+')',stroke:'#222','stroke-width':1});
  
  
  spec.ticks.forEach(v=>{
    const x=barL+(v-spec.vmin)/(spec.vmax-spec.vmin)*(barR-barL);
    const tick=make('line',bar,{x1:x,x2:x,y1:L.barBottom,y2:L.barBottom+4,stroke:'#000','stroke-width':1});
    
    
    const label=make('text',bar,{x:x,y:L.barBottom+24.5,'text-anchor':'middle','font-size':21});
    label.textContent=String(v);
    
    
  });
}
panelSpecs.forEach(drawPanel);
</script>
</body>
</html>
